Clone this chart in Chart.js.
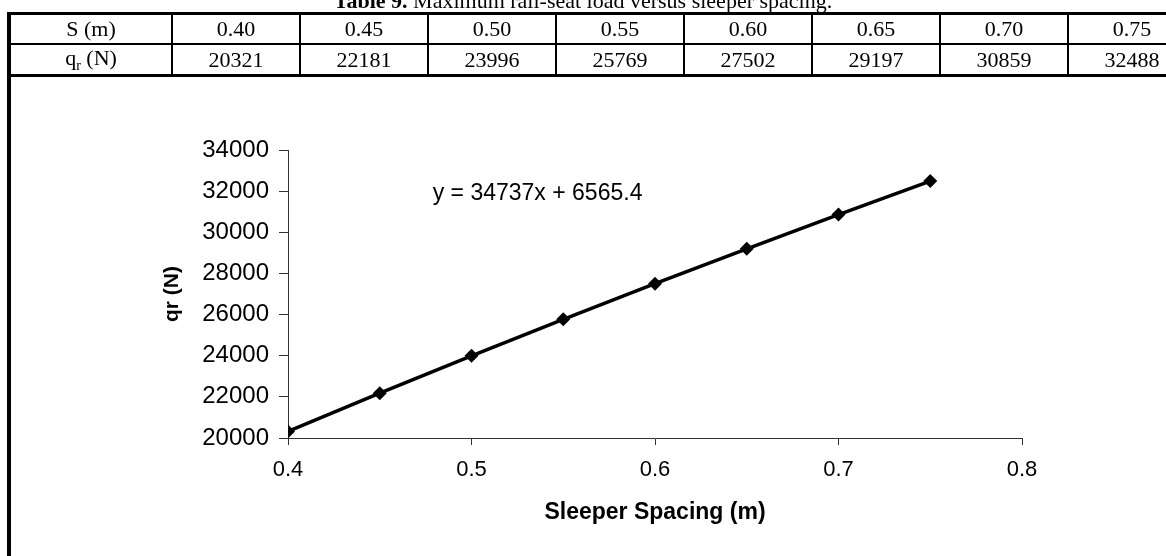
<!DOCTYPE html>
<html>
<head>
<meta charset="utf-8">
<script src="https://cdn.jsdelivr.net/npm/chart.js@4/dist/chart.umd.min.js"></script>
<style>
  html, body { margin: 0; padding: 0; background: #fff; }
  body { width: 1166px; height: 556px; position: relative; overflow: hidden; }
  .caption {
    position: absolute; left: 0; width: 1166px; top: -12px;
    text-align: center; font: 22px "Liberation Serif", "Times New Roman", serif; color: #000;
  }
  table.data {
    position: absolute; left: 7px; top: 12px; width: 1190px;
    border-collapse: collapse; table-layout: fixed;
    font: 22px "Liberation Serif", "Times New Roman", serif; color: #000;
  }
  table.data td {
    border: 2px solid #000; text-align: center; height: 28px; padding: 0;
  }
  table.data tr:first-child td { border-top-width: 3px; }
  table.data tr:last-child td { border-bottom-width: 3px; }
  table.data td:first-child { border-left-width: 4px; width: 160px; }
  .frame { position: absolute; left: 7px; width: 4px; top: 76px; bottom: 0; background: #000; }
  .chart-wrap { position: absolute; left: 0; top: 0; width: 1166px; height: 556px; }
</style>
</head>
<body>
<div class="chart-wrap"><canvas id="chart" width="1166" height="556"></canvas></div>
<div class="caption"><b>Table 9.</b> Maximum rail-seat load versus sleeper spacing.</div>
<table class="data">
  <tr id="row-s"><td>S (m)</td></tr>
  <tr id="row-q"><td>q<sub style="font-size:14px">r</sub> (N)</td></tr>
</table>
<div class="frame"></div>

<script>
const spacingLabels = ['0.40', '0.45', '0.50', '0.55', '0.60', '0.65', '0.70', '0.75'];
const spacing = [0.40, 0.45, 0.50, 0.55, 0.60, 0.65, 0.70, 0.75];
const railSeatLoad = [20321, 22181, 23996, 25769, 27502, 29197, 30859, 32488];
const xTicks = [0.4, 0.5, 0.6, 0.7, 0.8];
const yTicks = [20000, 22000, 24000, 26000, 28000, 30000, 32000, 34000];
const trendText = 'y = 34737x + 6565.4';

// fill the table rows from the same arrays
const rowS = document.getElementById('row-s');
const rowQ = document.getElementById('row-q');
spacingLabels.forEach((s, i) => {
  rowS.insertAdjacentHTML('beforeend', `<td>${s}</td>`);
  rowQ.insertAdjacentHTML('beforeend', `<td>${railSeatLoad[i]}</td>`);
});

const family = '"Liberation Sans", Arial, sans-serif';

// equation label, anchored in data space
const trendLabel = {
  id: 'trendLabel',
  afterDraw(chart) {
    const { ctx, scales } = chart;
    ctx.save();
    ctx.font = `23px ${family}`;
    ctx.fillStyle = '#000';
    ctx.textAlign = 'center';
    ctx.textBaseline = 'middle';
    ctx.fillText(trendText, scales.x.getPixelForValue(0.536), scales.y.getPixelForValue(31900));
    ctx.restore();
  }
};

new Chart(document.getElementById('chart').getContext('2d'), {
  type: 'scatter',
  data: {
    datasets: [{
      data: spacing.map((x, i) => ({ x, y: railSeatLoad[i] })),
      showLine: true,
      borderColor: '#000',
      borderWidth: 3.5,
      backgroundColor: '#000',
      pointStyle: 'rectRot',
      pointRadius: 7,
      pointBorderWidth: 0
    }]
  },
  options: {
    responsive: false,
    animation: false,
    layout: { padding: { left: 160, right: 144, top: 150, bottom: 30 } },
    scales: {
      x: {
        type: 'linear',
        min: 0.4,
        max: 0.8,
        afterBuildTicks: axis => { axis.ticks = xTicks.map(v => ({ value: v })); },
        afterFit: axis => { axis.height = 88; },
        ticks: { color: '#000', font: { family, size: 22 }, padding: 12, callback: v => v.toFixed(1) },
        grid: { drawOnChartArea: false, tickLength: 7, color: '#333' },
        border: { color: '#333', width: 1 },
        title: {
          display: true, text: 'Sleeper Spacing (m)', color: '#000',
          font: { family, size: 23, weight: 'bold' }, padding: 0
        }
      },
      y: {
        min: 20000,
        max: 34000,
        afterBuildTicks: axis => { axis.ticks = yTicks.map(v => ({ value: v })); },
        afterFit: axis => { axis.width = 128; },
        ticks: { color: '#000', font: { family, size: 24 }, padding: 10, callback: v => String(v) },
        grid: { drawOnChartArea: false, tickLength: 9, color: '#333' },
        border: { color: '#333', width: 1 },
        title: {
          display: true, text: 'qr (N)', color: '#000',
          font: { family, size: 21, weight: 'bold' }, padding: 0
        }
      }
    },
    plugins: {
      legend: { display: false },
      tooltip: { enabled: false }
    }
  },
  plugins: [trendLabel]
});
</script>
</body>
</html>
